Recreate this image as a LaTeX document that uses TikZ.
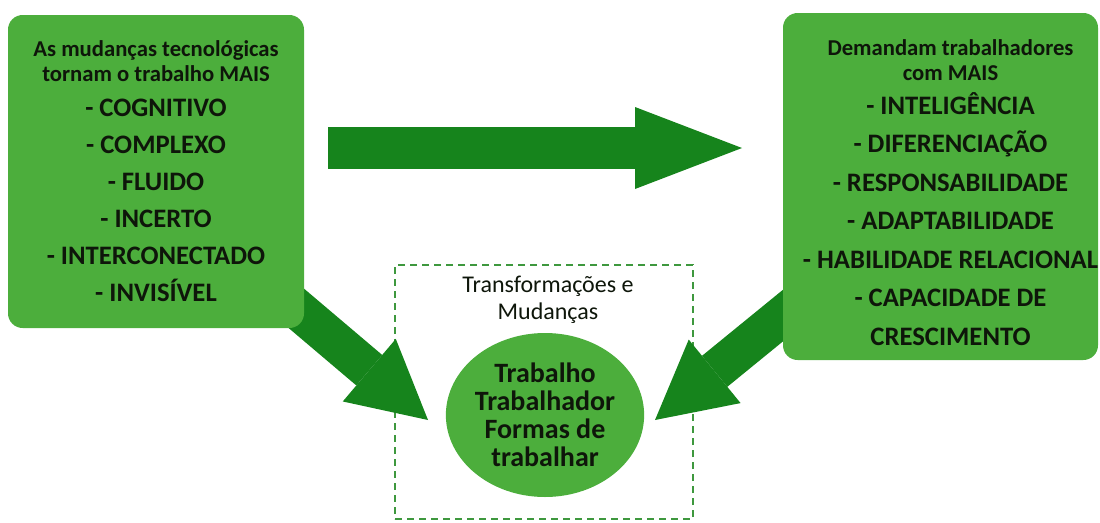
\documentclass[tikz,border=0pt]{standalone}
\usepackage{fontspec}
\setmainfont{Carlito}
\usetikzlibrary{shapes.geometric,arrows.meta,backgrounds}
\definecolor{leafgreen}{RGB}{76,174,60}
\definecolor{darkgreen}{RGB}{22,132,28}
\definecolor{dashgreen}{RGB}{62,152,62}
\definecolor{inkblack}{RGB}{14,22,10}

\begin{document}
\begin{tikzpicture}[x=0.75pt,y=-0.75pt,
        greenbox/.style={fill=leafgreen,rounded corners=11pt,inner sep=0pt},
        boxtext/.style={align=center,text=inkblack,inner sep=0pt,
                font=\bfseries\fontsize{20}{#1}\selectfont},
        frame/.style={draw=dashgreen,line width=2.2pt,dash pattern=on 5.5pt off 3.5pt,
                minimum width=223.5pt,minimum height=190.5pt,inner sep=0pt},
        flow/.style 2 args={darkgreen,line width=#1,
                -{Triangle[length=#2,width=61.5pt,line width=0pt]}}]
        \useasboundingbox (0,0) rectangle (1100,522);

        \node[greenbox,minimum width=222pt,minimum height=234.75pt] (lbox) at (156,171.5) {};
        \node[greenbox,minimum width=236.25pt,minimum height=260.25pt] (rbox) at (940.5,186.5) {};

        \node[boxtext=27.75pt] (ltext) at (lbox.center)
        {{\fontsize{17}{19}\selectfont As mudanças tecnológicas}\\[-9pt]
         {\fontsize{17}{19}\selectfont tornam o trabalho MAIS}\\[-1.5pt]
         - COGNITIVO\\ - COMPLEXO\\ - FLUIDO\\ - INCERTO\\ - INTERCONECTADO\\ - INVISÍVEL};
        \node[boxtext=28.9pt] (rtext) at ([shift={(10,6)}]rbox.center)
        {{\fontsize{17}{19}\selectfont Demandam trabalhadores}\\[-10.1pt]
         {\fontsize{17}{19}\selectfont com MAIS}\\[-3.4pt]
         - INTELIGÊNCIA\\ - DIFERENCIAÇÃO\\ - RESPONSABILIDADE\\ - ADAPTABILIDADE\\
         - HABILIDADE RELACIONAL\\ - CAPACIDADE DE\\ CRESCIMENTO};

        \node[ellipse,fill=leafgreen,minimum width=138pt,minimum height=123pt,inner sep=0pt,
                align=center,text=inkblack,font=\bfseries\fontsize{21}{21}\selectfont]
                (core) at (545,415) {Trabalho\\ Trabalhador\\ Formas de\\ trabalhar};

        \coordinate (hstart) at (328,148);
        \coordinate (htip) at (742,148);
        \coordinate (ltip) at (428,420);
        \coordinate (rtip) at (655,420);

        \begin{scope}[on background layer]
                \node[frame] (box) at (544,392) {};
                \draw[flow={31.5pt}{80.25pt}] (hstart) -- (htip);
                \draw[flow={30pt}{57.75pt}] ([shift={(-21,-31)}]lbox.south east) -- (ltip);
                \draw[flow={30pt}{57.75pt}] ([shift={(19,-60)}]rbox.south west) -- (rtip);
        \end{scope}

        \node[align=center,text=inkblack,font=\fontsize{18}{20.25}\selectfont]
                (caption) at ([shift={(4,36)}]box.north) {Transformações e\\ Mudanças};
\end{tikzpicture}
\end{document}
